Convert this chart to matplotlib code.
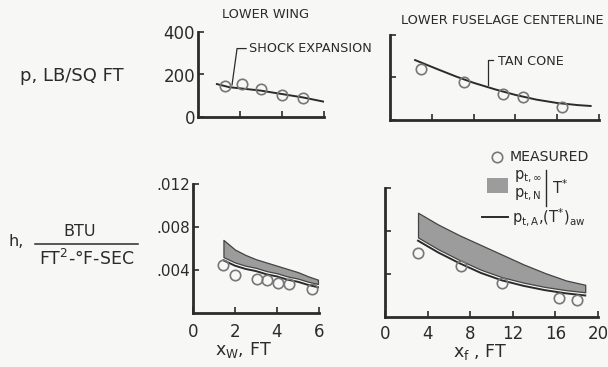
import matplotlib
matplotlib.use("Agg")
import matplotlib.pyplot as plt
from matplotlib.lines import Line2D
from matplotlib.patches import Rectangle

plt.rcParams['font.family'] = ['DejaVu Sans']
plt.rcParams['mathtext.fontset'] = 'dejavusans'

INK = '#2b2b2b'
BG = '#f7f7f6'
BAND = '#9c9c9c'

# ---------------- data ----------------
# Lower wing pressure
wing_p_meas_x = [1.3, 2.1, 3.0, 4.0, 5.0]
wing_p_meas_y = [145, 155, 130, 103, 90]
wing_p_theory_x = [0.9, 1.5, 2.0, 3.0, 4.0, 5.0, 6.0]
wing_p_theory_y = [155, 140, 135, 124, 108, 92, 72]

# Lower fuselage centerline pressure
fus_p_meas_x = [3.0, 7.1, 10.8, 12.7, 16.5]
fus_p_meas_y = [240, 180, 120, 110, 63]
fus_p_theory_x = [2.4, 4.5, 6.3, 8.0, 10.0, 12.0, 14.0, 16.0, 18.0, 19.2]
fus_p_theory_y = [282, 240, 205, 175, 145, 118, 96, 80, 70, 66]

# Lower wing heat transfer
wing_h_meas_x = [1.45, 2.0, 3.05, 3.5, 4.05, 4.55, 5.65]
wing_h_meas_y = [0.0045, 0.0035, 0.0032, 0.0031, 0.0028, 0.0027, 0.0022]
wing_h_x = [1.45, 2.0, 2.5, 3.0, 3.5, 4.0, 4.5, 5.0, 5.5, 5.95]
wing_h_band_hi = [0.0068, 0.0059, 0.0054, 0.0050, 0.0047, 0.0044, 0.0041, 0.0038, 0.0034, 0.0031]
wing_h_band_lo = [0.0052, 0.0047, 0.0044, 0.0042, 0.0039, 0.0037, 0.0034, 0.0032, 0.0029, 0.0027]
wing_h_aw = [0.0049, 0.0044, 0.0041, 0.0039, 0.0036, 0.0034, 0.0031, 0.0029, 0.0026, 0.0024]

# Lower fuselage heat transfer
fus_h_meas_x = [3.1, 7.15, 11.0, 16.3, 18.0]
fus_h_meas_y = [0.0060, 0.0047, 0.0032, 0.0018, 0.0016]
fus_h_x = [3.1, 5.0, 7.0, 9.0, 11.0, 13.0, 15.0, 17.0, 18.8]
fus_h_band_hi = [0.0097, 0.0086, 0.0076, 0.0067, 0.0058, 0.0049, 0.0041, 0.0034, 0.0030]
fus_h_band_lo = [0.0074, 0.0063, 0.0053, 0.0044, 0.0037, 0.0032, 0.0028, 0.0025, 0.0023]
fus_h_aw = [0.0071, 0.0060, 0.0050, 0.0041, 0.0034, 0.0029, 0.0025, 0.0022, 0.0020]

p_ticks = [0, 200, 400]
p_ticklabels = ['0', '200', '400']
h_ticks = [0.004, 0.008, 0.012]
h_ticklabels = ['.004', '.008', '.012']
xw_ticks = [0, 2, 4, 6]
xf_ticks = [0, 4, 8, 12, 16, 20]

# ---------------- figure ----------------
W, H = 608, 367
fig = plt.figure(figsize=(W / 100, H / 100), dpi=100, facecolor=BG)


def frac(x0, y0, x1, y1):
    return [x0 / W, 1 - y1 / H, (x1 - x0) / W, (y1 - y0) / H]


ax_tl = fig.add_axes(frac(198, 32, 324, 117))
ax_tr = fig.add_axes(frac(390, 35, 599, 120))
ax_bl = fig.add_axes(frac(193, 184, 319, 313))
ax_br = fig.add_axes(frac(385, 188, 598, 317))

for ax in (ax_tl, ax_tr, ax_bl, ax_br):
    ax.set_facecolor('none')
    for s in ('top', 'right'):
        ax.spines[s].set_visible(False)
    for s in ('left', 'bottom'):
        ax.spines[s].set_linewidth(2.0)
        ax.spines[s].set_color(INK)
        ax.spines[s].set_capstyle('projecting')
    ax.tick_params(direction='in', length=4, width=1.2, color=INK, labelcolor=INK)

mk = dict(marker='o', linestyle='none', markersize=7.5, markerfacecolor='none',
          markeredgecolor='#777777', markeredgewidth=1.2, zorder=5)

# --- top left: wing pressure
ax_tl.set_xlim(0, 6)
ax_tl.set_ylim(0, 400)
ax_tl.plot(wing_p_theory_x, wing_p_theory_y, color=INK, lw=1.4)
ax_tl.plot(wing_p_meas_x, wing_p_meas_y, **mk)
ax_tl.set_xticks(xw_ticks[1:])
ax_tl.set_xticklabels([])
ax_tl.set_yticks(p_ticks)
ax_tl.set_yticklabels(p_ticklabels, fontsize=12)
ax_tl.tick_params(axis='y', pad=2)
ax_tl.plot([1.62, 1.86, 2.29], [151, 322, 322], color=INK, lw=0.9, clip_on=False)
ax_tl.text(2.43, 322, 'SHOCK EXPANSION', fontsize=9.2, color=INK, va='center', ha='left')

# --- top right: fuselage pressure
ax_tr.set_xlim(0, 20)
ax_tr.set_ylim(0, 400)
ax_tr.plot(fus_p_theory_x, fus_p_theory_y, color=INK, lw=1.4)
ax_tr.plot(fus_p_meas_x, fus_p_meas_y, **mk)
ax_tr.set_xticks(xf_ticks[1:])
ax_tr.set_xticklabels([])
ax_tr.set_yticks(p_ticks)
ax_tr.set_yticklabels([])
ax_tr.plot([9.38, 9.38, 9.86], [165, 282, 282], color=INK, lw=0.9, clip_on=False)
ax_tr.text(10.33, 277, 'TAN CONE', fontsize=9.2, color=INK, va='center', ha='left')

# --- bottom left: wing heating
ax_bl.set_xlim(0, 6)
ax_bl.set_ylim(0, 0.012)
ax_bl.fill_between(wing_h_x, wing_h_band_lo, wing_h_band_hi, facecolor=BAND,
                   edgecolor='#444444', linewidth=0.9)
ax_bl.plot(wing_h_x, wing_h_aw, color=INK, lw=1.4)
ax_bl.plot(wing_h_meas_x, wing_h_meas_y, **mk)
ax_bl.set_xticks(xw_ticks)
ax_bl.set_xticklabels([str(v) for v in xw_ticks], fontsize=12)
ax_bl.set_yticks(h_ticks)
ax_bl.set_yticklabels(h_ticklabels, fontsize=11)
ax_bl.tick_params(axis='x', pad=7)
ax_bl.tick_params(axis='y', pad=2)

# --- bottom right: fuselage heating
ax_br.set_xlim(0, 20)
ax_br.set_ylim(0, 0.012)
ax_br.fill_between(fus_h_x, fus_h_band_lo, fus_h_band_hi, facecolor=BAND,
                   edgecolor='#444444', linewidth=0.9)
ax_br.plot(fus_h_x, fus_h_aw, color=INK, lw=1.4)
ax_br.plot(fus_h_meas_x, fus_h_meas_y, **mk)
ax_br.set_xticks(xf_ticks)
ax_br.set_xticklabels([str(v) for v in xf_ticks], fontsize=12)
ax_br.set_yticks(h_ticks)
ax_br.set_yticklabels([])
ax_br.tick_params(axis='x', pad=6)


def fx(px):
    return px / W


def fy(py):
    return 1 - py / H


# titles
fig.text(fx(266), fy(15), 'LOWER WING', fontsize=9.3, color=INK, ha='center', va='center')
fig.text(fx(502), fy(20), 'LOWER FUSELAGE CENTERLINE', fontsize=9.3, color=INK,
         ha='center', va='center')

# left labels
fig.text(fx(20), fy(76), 'p, LB/SQ FT', fontsize=13, color=INK, ha='left', va='center')
fig.text(fx(8), fy(241), 'h,', fontsize=11.5, color=INK, ha='left', va='center')
fig.text(fx(80), fy(232), 'BTU', fontsize=11.5, color=INK, ha='center', va='center')
fig.add_artist(Line2D([fx(35), fx(138)], [fy(244), fy(244)], color=INK, lw=1.1))
fig.text(fx(87), fy(259), r'FT$^2$-°F-SEC', fontsize=12.5, color=INK, ha='center', va='center')

# x labels
fig.text(fx(243), fy(350), r'x$_{\rm W}$, FT', fontsize=12.5, color=INK, ha='center', va='center')
fig.text(fx(480), fy(352), r'x$_{\rm f}$ , FT', fontsize=12.5, color=INK, ha='center', va='center')

# legend
fig.add_artist(Line2D([fx(497)], [fy(157)], **mk))
fig.text(fx(510), fy(157), 'MEASURED', fontsize=10.2, color=INK, ha='left', va='center')
fig.add_artist(Rectangle((fx(487), fy(193)), fx(508) - fx(487), fy(178) - fy(193),
                         transform=fig.transFigure, facecolor=BAND, edgecolor='none'))
fig.text(fx(514), fy(177), r'p$_{\rm t,\infty}$', fontsize=10.5, color=INK, ha='left', va='center')
fig.text(fx(514), fy(195), r'p$_{\rm t,N}$', fontsize=10.5, color=INK, ha='left', va='center')
fig.add_artist(Line2D([fx(546), fx(546)], [fy(170), fy(206)], color=INK, lw=1.0))
fig.text(fx(552), fy(188), r'T$^{*}$', fontsize=10.5, color=INK, ha='left', va='center')
fig.add_artist(Line2D([fx(482), fx(508)], [fy(217), fy(217)], color=INK, lw=1.4))
fig.text(fx(512), fy(217), r'p$_{\rm t,A}$,(T$^{*}$)$_{\rm aw}$', fontsize=10.5, color=INK,
         ha='left', va='center')

fig.savefig('out.png', dpi=100, facecolor=BG)
